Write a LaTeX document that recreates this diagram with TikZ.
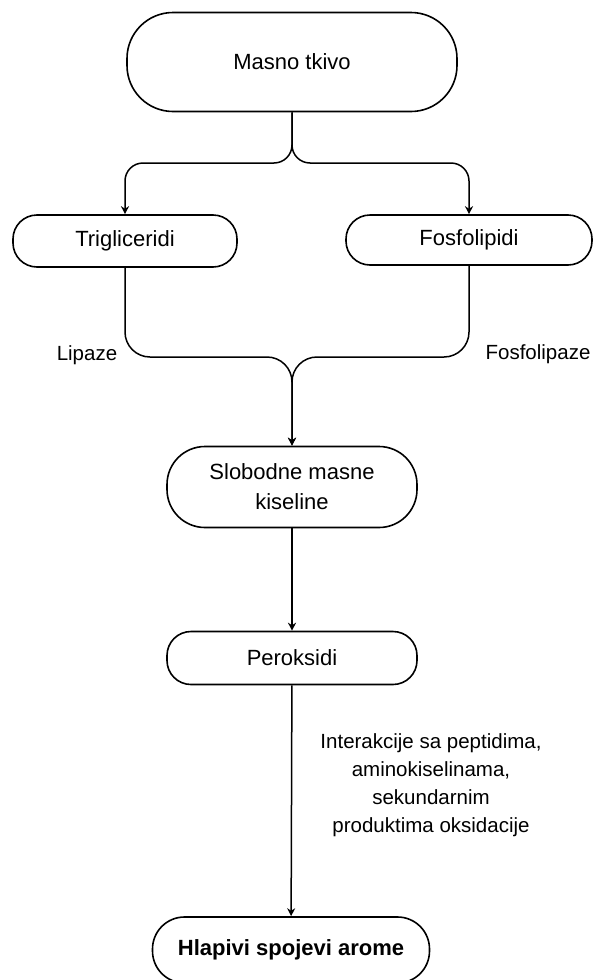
\documentclass[tikz,border=0pt]{standalone}
\usepackage{fontspec}
\setmainfont{Liberation Sans}
\usetikzlibrary{arrows.meta,positioning}
\tikzstyle{box}=[draw,line width=1.6pt,rounded corners=24pt,align=center,inner sep=0pt,font=\fontsize{22}{30}\selectfont]
\tikzstyle{edge}=[draw,line width=1.5pt,-{Stealth[length=8pt,width=8pt]}]
\tikzstyle{note}=[align=center,font=\fontsize{20.5}{28}\selectfont]

\begin{document}
\begin{tikzpicture}[x=1pt,y=-1pt]
\useasboundingbox (0,0) rectangle (595,980);

% First we draw the boxes
\node[box,rounded corners=46pt,minimum width=330pt,minimum height=99pt] (masno) at (292,62) {Masno tkivo};
\node[box,minimum width=224pt,minimum height=52pt] (tri) at (125,241) {Trigliceridi};
\node[box,minimum width=246pt,minimum height=50pt] (fos) at (469,240) {Fosfolipidi};
\node[box,rounded corners=38pt,minimum width=250pt,minimum height=81pt] (slob) at (292,487) {Slobodne masne\\kiseline};
\node[box,minimum width=250pt,minimum height=53pt] (perok) at (292,658) {Peroksidi};
\node[box,rounded corners=32pt,minimum width=277pt,minimum height=66pt,font=\fontsize{22}{30}\selectfont\bfseries] (hlap) at (291,950) {Hlapivi spojevi arome};

% Then the texts beside the connectors
\node[note] (lip) at (87,355) {Lipaze};
\node[note] (fosl) at (538,354) {Fosfolipaze};
\node[note] (inter) at (431,785) {Interakcije sa peptidima,\\aminokiselinama,\\sekundarnim\\produktima oksidacije};

% Connect boxes with edges
\foreach \dest in {tri,fos}
\path[edge,rounded corners=18pt] (masno.south) -- (masno.south |- 0,163) -- (\dest.north |- 0,163) -- (\dest.north);
\foreach \source in {tri,fos}
\path[edge,rounded corners=25pt] (\source.south) -- (\source.south |- 0,357) -- (slob.north |- 0,357) -- (slob.north);
\path[edge] (slob) -- (perok);
\path[edge] (perok) -- (hlap);

\end{tikzpicture}
\end{document}
